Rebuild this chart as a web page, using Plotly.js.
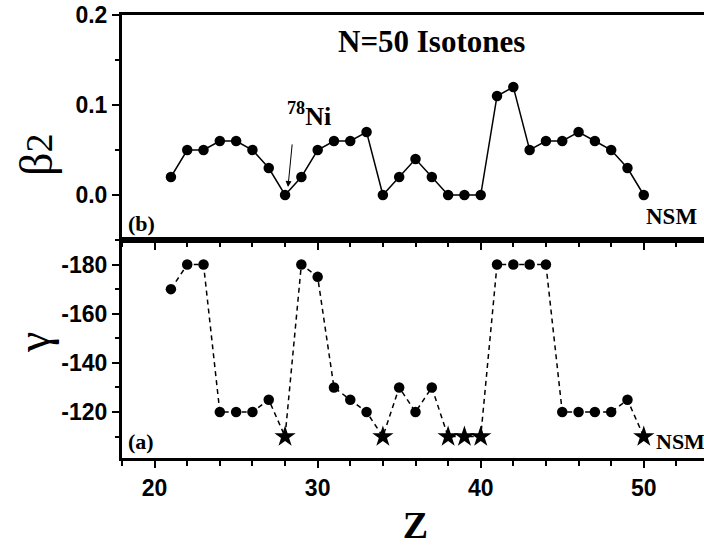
<!DOCTYPE html>
<html>
<head>
<meta charset="utf-8">
<script src="https://cdn.plot.ly/plotly-3.0.1.min.js"></script>
<style>
html,body{margin:0;padding:0;overflow:hidden;background:#fff;}
#chart{width:709px;height:546px;}
</style>
</head>
<body>
<div id="chart"></div>
<script>
// ---- data ----
const Z = [21,22,23,24,25,26,27,28,29,30,31,32,33,34,35,36,37,38,39,40,41,42,43,44,45,46,47,48,49,50];
const beta2 = [0.02,0.05,0.05,0.06,0.06,0.05,0.03,0.00,0.02,0.05,0.06,0.06,0.07,0.00,0.02,0.04,0.02,0.00,0.00,0.00,0.11,0.12,0.05,0.06,0.06,0.07,0.06,0.05,0.03,0.00];
const gamma = [-170,-180,-180,-120,-120,-120,-125,-110,-180,-175,-130,-125,-120,-110,-130,-120,-130,-110,-110,-110,-180,-180,-180,-180,-120,-120,-120,-120,-125,-110];
const nsm = [0,0,0,0,0,0,0,1,0,0,0,0,0,1,0,0,0,1,1,1,0,0,0,0,0,0,0,0,0,1];
const xTickVals = [20,30,40,50];
const gammaTickVals = [-180,-160,-140,-120];
const gammaTickText = ['-180','-160','-140','-120'];
const betaTickVals = [0.0,0.1,0.2];
const betaTickText = ['0.0','0.1','0.2'];
const titleText = 'N=50 Isotones';

// ---- layout helpers ----
const L = 122, R = 709, T = 15, B = 458, W = 709, H = 546;
const px = x => (x - L) / (R - L);
const py = y => (B - y) / (B - T);
const split = py(240);

const serifB = (s) => ({family: 'Liberation Serif, Times New Roman, serif', size: s, color: '#000', weight: 'bold'});
const tickFont = {family: 'Liberation Sans, Arial, sans-serif', size: 23, color: '#000', weight: 'bold'};

const traces = [
  {
    x: Z, y: beta2, xaxis: 'x2', yaxis: 'y2', type: 'scatter', mode: 'lines+markers',
    line: {color: '#000', width: 1.5},
    marker: {color: '#000', size: 10.5, symbol: 'circle', opacity: 1},
    hoverinfo: 'x+y', showlegend: false
  },
  {
    x: Z, y: gamma, xaxis: 'x', yaxis: 'y', type: 'scatter', mode: 'lines+markers',
    line: {color: '#000', width: 1.5, dash: '5px,4px'},
    marker: {color: '#000', opacity: 1, size: nsm.map(f => f ? 16 : 10.5), symbol: nsm.map(f => f ? 'star' : 'circle'), line: {width: 0}},
    hoverinfo: 'x+y', showlegend: false
  }
];

const axisCommon = {
  showline: true, linewidth: 3, linecolor: '#000', mirror: true,
  showgrid: false, zeroline: false,
  ticks: 'outside', ticklen: 7, tickwidth: 2, tickcolor: '#000',
  tickfont: tickFont
};

const layout = {
  width: W, height: H,
  margin: {l: L, r: W - R, t: T, b: H - B},
  paper_bgcolor: '#fff', plot_bgcolor: '#fff',
  font: {family: 'Liberation Sans, Arial, sans-serif', color: '#000'},
  showlegend: false,
  xaxis: Object.assign({}, axisCommon, {
    domain: [0, 1], anchor: 'y', range: [18, 54],
    tickvals: xTickVals, ticktext: xTickVals.map(String),
    minor: {dtick: 2, tick0: 0, ticks: 'outside', ticklen: 5, tickwidth: 2, tickcolor: '#000', showgrid: false},
    title: {text: 'Z', font: serifB(38), standoff: 22}
  }),
  yaxis: Object.assign({}, axisCommon, {
    domain: [0, split], anchor: 'x', range: [-101.3, -190],
    tickvals: gammaTickVals, ticktext: gammaTickText,
    minor: {dtick: 10, tick0: 0, ticks: 'outside', ticklen: 4, tickwidth: 2, tickcolor: '#000', showgrid: false}
  }),
  xaxis2: Object.assign({}, axisCommon, {
    domain: [0, 1], anchor: 'y2', matches: 'x', range: [18, 54],
    tickvals: xTickVals, showticklabels: false,
    minor: {dtick: 2, tick0: 0, ticks: 'outside', ticklen: 4, tickwidth: 2, tickcolor: '#000', showgrid: false}
  }),
  yaxis2: Object.assign({}, axisCommon, {
    domain: [split, 1], anchor: 'x2', range: [-0.05, 0.2],
    tickvals: betaTickVals, ticktext: betaTickText,
    minor: {dtick: 0.05, tick0: 0, ticks: 'outside', ticklen: 4, tickwidth: 2, tickcolor: '#000', showgrid: false}
  }),
  annotations: [
    {text: titleText, xref: 'paper', yref: 'paper', x: px(431), y: py(41), showarrow: false, font: serifB(31), xanchor: 'center', yanchor: 'middle'},
    {text: '<sup>78</sup>Ni', xref: 'paper', yref: 'paper', x: px(309), y: py(114), showarrow: false, font: serifB(26), xanchor: 'center', yanchor: 'middle'},
    {text: ' ', xref: 'x2', yref: 'y2', x: 28.18, y: 0.009, axref: 'pixel', ayref: 'pixel', ax: 5, ay: -51,
     showarrow: true, arrowhead: 2, arrowsize: 1.2, arrowwidth: 1, arrowcolor: '#000'},
    {text: '(b)', xref: 'paper', yref: 'paper', x: px(141.5), y: py(223), showarrow: false, font: serifB(22), xanchor: 'center', yanchor: 'middle'},
    {text: 'NSM', xref: 'paper', yref: 'paper', x: px(671), y: py(216.5), showarrow: false, font: serifB(23), xanchor: 'center', yanchor: 'middle'},
    {text: '(a)', xref: 'paper', yref: 'paper', x: px(140.5), y: py(441.5), showarrow: false, font: serifB(22), xanchor: 'center', yanchor: 'middle'},
    {text: 'NSM', xref: 'paper', yref: 'paper', x: px(654), y: py(441.5), showarrow: false, font: serifB(22), xanchor: 'left', yanchor: 'middle'},
    {text: 'β<span style="font-size:38px">2</span>', xref: 'paper', yref: 'paper', x: px(37), y: py(155), showarrow: false, textangle: -90,
     font: {family: 'Liberation Serif, Times New Roman, serif', size: 46, color: '#000'}, xanchor: 'center', yanchor: 'middle'},
    {text: 'γ', xref: 'paper', yref: 'paper', x: px(33), y: py(343), showarrow: false, textangle: -90,
     font: {family: 'Liberation Serif, Times New Roman, serif', size: 46, color: '#000'}, xanchor: 'center', yanchor: 'middle'}
  ]
};

Plotly.newPlot('chart', traces, layout, {staticPlot: true, displayModeBar: false});
</script>
</body>
</html>
